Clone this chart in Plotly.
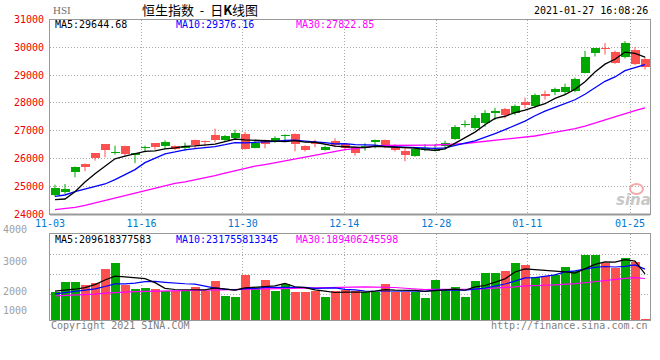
import plotly.graph_objects as go

# ---------------- data ----------------
dates = ["11-03","11-04","11-05","11-06","11-09","11-10","11-11","11-12","11-13",
         "11-16","11-17","11-18","11-19","11-20","11-23","11-24","11-25","11-26","11-27",
         "11-30","12-01","12-02","12-03","12-04","12-07","12-08","12-09","12-10","12-11",
         "12-14","12-15","12-16","12-17","12-18","12-21","12-22","12-23","12-24",
         "12-28","12-29","12-30","12-31","01-04","01-05","01-06","01-07","01-08",
         "01-11","01-12","01-13","01-14","01-15","01-18","01-19","01-20","01-21","01-22",
         "01-25","01-26","01-27"]

opens = [24672,24780,25500,25788,26184,26508,26200,26436,26136,26364,26544,26436,26460,26388,
         26676,26640,26832,26676,26748,26868,26388,26676,26592,26796,26892,26460,26568,26316,
         26640,26520,26424,26364,26604,26676,26424,26280,26076,26292,26280,26460,26690,27190,
         27083,27262,27619,27774,27619,28048,27905,28333,28405,28405,28440,29083,29810,29976,
         29833,29667,29905,29583]
highs = [25056,25080,25710,25824,26190,26510,26460,26460,26200,26460,26550,26652,26470,26568,
         26680,26645,27072,26840,27036,26952,26676,26680,26796,26868,26900,26470,26676,26460,
         26724,26545,26430,26545,26680,26680,26510,26364,26400,26510,26510,26640,27200,27369,
         27560,27740,27821,27821,27940,28190,28333,28440,28548,28690,28910,29869,29976,30155,
         29880,30226,30012,29655]
lows = [24620,24720,25320,25540,25920,26040,26136,26100,25830,26220,26316,26340,26304,26280,
        26376,26436,26580,26592,26664,26316,26364,26364,26560,26640,26256,26250,26400,26280,
        26400,26280,26100,26280,26364,26364,26250,25896,26060,26260,26250,26330,26670,27119,
        27020,27140,27381,27440,27560,27798,27820,28119,28274,28300,28380,29060,29667,29738,
        29405,29600,29360,29202]
closes = [24940,24886,25695,25690,26016,26301,26226,26170,26190,26388,26400,26580,26356,26455,
          26486,26588,26669,26819,26928,26341,26567,26532,26748,26850,26506,26304,26502,26424,
          26480,26389,26207,26436,26678,26420,26306,26119,26343,26386,26314,26568,27147,27231,
          27472,27649,27692,27548,27878,27908,28276,28235,28496,28573,28862,29642,29962,29927,
          29447,30159,29391,29297]

ma5 = [24516,24540,24800,25150,25445,25718,25986,26081,26181,26255,26275,26346,26383,26436,
       26455,26493,26511,26603,26698,26669,26665,26637,26623,26608,26641,26588,26582,26517,
       26443,26420,26400,26387,26438,26426,26409,26392,26373,26315,26294,26346,26552,26729,
       26946,27213,27438,27518,27648,27735,27860,27969,28159,28298,28488,28762,29107,29393,
       29568,29827,29777,29644]
ma10 = [24636,24684,24804,24900,24984,25080,25236,25416,25596,25850,25996,26166,26232,26308,
        26355,26384,26428,26493,26567,26562,26579,26574,26613,26653,26655,26626,26610,26570,
        26525,26530,26494,26485,26478,26435,26415,26396,26380,26376,26360,26378,26472,26551,
        26631,26754,26892,27035,27189,27341,27537,27704,27839,27973,28112,28311,28538,28776,
        28933,29158,29269,29376]
ma30 = [24160,24190,24240,24310,24400,24480,24560,24650,24740,24830,24920,25010,25100,25160,
        25230,25300,25380,25470,25560,25650,25720,25780,25850,25910,25980,26040,26120,26190,
        26260,26314,26356,26408,26441,26465,26475,26469,26473,26480,26484,26490,26515,26537,
        26574,26614,26654,26686,26726,26762,26807,26871,26935,27003,27073,27166,27282,27402,
        27501,27625,27722,27819]

volumes = [1281,1739,1739,1601,1693,2333,2608,1601,1418,1464,1418,1312,1342,1342,1525,1342,
           1784,1098,1052,2059,1495,1830,1327,1647,1281,1281,1327,1052,1327,1373,1327,1281,
           1281,1647,1281,1281,1281,1022,1830,1373,1510,1052,1784,2150,2150,2242,2608,2516,
           1967,2013,2059,2425,2242,2974,2974,2608,2379,2837,2623,46]
vma5 = [1312,1342,1403,1479,1611,1821,1995,1967,1931,1885,1702,1443,1391,1376,1388,1373,1467,
        1418,1360,1467,1498,1507,1553,1672,1516,1473,1373,1318,1254,1272,1281,1272,1318,1382,
        1363,1354,1354,1302,1339,1357,1403,1357,1510,1574,1729,1876,2187,2333,2297,2269,2233,
        2196,2141,2343,2535,2645,2635,2754,2684,2099]
vma10 = [1190,1251,1296,1373,1418,1525,1647,1647,1678,1748,1761,1719,1679,1653,1636,1537,1455,
         1405,1368,1427,1435,1487,1485,1516,1492,1485,1440,1435,1463,1394,1377,1322,1318,1318,
         1318,1318,1313,1310,1360,1360,1379,1356,1406,1456,1543,1639,1772,1922,1935,1999,2054,
         2191,2237,2320,2402,2439,2416,2448,2514,2317]
vma30 = [1098,1110,1125,1145,1175,1225,1262,1275,1290,1300,1310,1320,1330,1340,1355,1370,1385,
         1395,1405,1420,1430,1440,1450,1460,1470,1480,1490,1500,1512,1523,1525,1509,1494,1496,
         1482,1447,1403,1383,1397,1394,1397,1388,1403,1430,1451,1481,1508,1556,1586,1585,1603,
         1623,1654,1698,1754,1799,1834,1893,1936,1892]

x_tick_labels = ["11-03", "11-16", "11-30", "12-14", "12-28", "01-11", "01-25"]
x_tick_vals = [-0.5, 8.65, 18.77, 28.93, 38.13, 47.23, 57.5]
price_ticks = [24000, 25000, 26000, 27000, 28000, 29000, 30000, 31000]
vol_tick_labels = ["4000", "3000", "2000", "1000"]

ma_text = ["MA5:29644.68", "MA10:29376.16", "MA30:27822.85"]
vma_text = ["MA5:209618377583", "MA10:231755813345", "MA30:189406245598"]

# ---------------- style ----------------
W, H = 660, 360
GREEN = "#00A800"
RED = "#FF5050"
GRID = "#A8A8A8"
MONO = "DejaVu Sans Mono, Liberation Mono, monospace"

def px(x):
    return x / W

def py(y):
    return 1 - y / H

n = len(closes)
xs = list(range(n))
up = [c >= o for o, c in zip(opens, closes)]

fig = go.Figure()

# wicks
for flag, col in ((True, GREEN), (False, RED)):
    wx, wy = [], []
    for i in xs:
        if up[i] == flag:
            wx += [i, i, None]
            wy += [lows[i], highs[i], None]
    fig.add_trace(go.Scatter(x=wx, y=wy, mode="lines", line=dict(color=col, width=1),
                             xaxis="x", yaxis="y", hoverinfo="skip", showlegend=False))

# bodies
for flag, col in ((True, GREEN), (False, RED)):
    bx = [i for i in xs if up[i] == flag]
    base = [min(opens[i], closes[i]) for i in bx]
    hgt = [max(abs(closes[i] - opens[i]), 30) for i in bx]
    fig.add_trace(go.Bar(x=bx, y=hgt, base=base, width=0.9, marker=dict(color=col, line=dict(width=0)),
                         xaxis="x", yaxis="y", showlegend=False, hoverinfo="skip"))

# price MAs
for arr, col in ((ma30, "#FF00FF"), (ma10, "#0000FF"), (ma5, "#000000")):
    fig.add_trace(go.Scatter(x=xs, y=arr, mode="lines", line=dict(color=col, width=1.3),
                             xaxis="x", yaxis="y", showlegend=False, hoverinfo="skip"))

# volume bars
for flag, col in ((True, GREEN), (False, RED)):
    bx = [i for i in xs if up[i] == flag]
    fig.add_trace(go.Bar(x=bx, y=[volumes[i] for i in bx], width=0.9,
                         marker=dict(color=col, line=dict(width=0)),
                         xaxis="x2", yaxis="y2", showlegend=False, hoverinfo="skip"))

for arr, col in ((vma30, "#FF00FF"), (vma10, "#0000FF"), (vma5, "#000000")):
    fig.add_trace(go.Scatter(x=xs, y=arr, mode="lines", line=dict(color=col, width=1.2),
                             xaxis="x2", yaxis="y2", showlegend=False, hoverinfo="skip"))

xdom = [px(50), px(650)]
axis_common = dict(range=[-0.5, n - 0.5], domain=xdom, tickmode="array", tickvals=x_tick_vals,
                   showgrid=True, gridcolor=GRID, griddash="1px,2px", gridwidth=1,
                   showline=True, linecolor="#999999", linewidth=1, mirror=True,
                   zeroline=False, ticks="", fixedrange=True, automargin=False)

fig.update_layout(
    width=W, height=H, margin=dict(l=0, r=0, t=0, b=0, autoexpand=False),
    paper_bgcolor="white", plot_bgcolor="white",
    barmode="overlay", bargap=0, hovermode=False,
    xaxis=dict(**axis_common, anchor="y", ticktext=x_tick_labels, showticklabels=True,
               tickfont=dict(family=MONO, size=10, color="#0078D0")),
    yaxis=dict(domain=[py(214), py(19.5)], range=[24000, 31000], tickmode="array",
               tickvals=price_ticks, ticktext=[str(v) for v in price_ticks],
               tickfont=dict(family=MONO, size=10, color="#F00000"),
               showgrid=True, gridcolor=GRID, griddash="1px,2px",
               showline=True, linecolor="#999999", linewidth=1, mirror=True,
               zeroline=False, ticks="", ticklabelstandoff=3, anchor="x", automargin=False,
               fixedrange=True),
    xaxis2=dict(**axis_common, anchor="y2", showticklabels=False),
    yaxis2=dict(domain=[py(320), py(234)], range=[0, 3920], tickmode="array",
                tickvals=[1144, 2059, 2974], showticklabels=False,
                showgrid=True, gridcolor=GRID, griddash="1px,2px",
                showline=True, linecolor="#999999", linewidth=1, mirror=True,
                zeroline=False, ticks="", anchor="x2", automargin=False, fixedrange=True),
)

# thicker bottom border of the price pane
fig.add_shape(type="line", xref="paper", yref="paper", x0=px(50), x1=px(650),
              y0=py(214.5), y1=py(214.5), line=dict(color="#999999", width=2))

ann = []

def text(x, y, s, size=10, color="#000", family=MONO, xanchor="left"):
    ann.append(dict(x=px(x), y=py(y), xref="paper", yref="paper", text=s, showarrow=False,
                    xanchor=xanchor, yanchor="middle", borderpad=0,
                    font=dict(family=family, size=size, color=color)))

text(52, 10, "HSI", size=11, color="#707070", family="Liberation Serif, serif")
text(141, 9, "恒生指数&nbsp;&nbsp;-&nbsp;&nbsp;日<b>K</b>线图", size=13, color="#000",
     family="Noto Sans CJK SC, sans-serif")
text(649, 10.5, "2021-01-27 16:08:26", xanchor="right")

text(54, 24.5, ma_text[0], color="#000000")
text(175, 24.5, ma_text[1], color="#0000FF")
text(295, 24.5, ma_text[2], color="#FF00FF")

text(54, 239, vma_text[0], color="#000000")
text(175, 239, vma_text[1], color="#0000FF")
text(295, 239, vma_text[2], color="#FF00FF")

for lab, yy in zip(vol_tick_labels, [230, 261, 291, 310]):
    text(28, yy, lab, color="#A0A0A0", xanchor="right", size=10)

text(50, 325, "Copyright 2021 SINA.COM", color="#808080")
text(649, 325, "http://finance.sina.com.cn", color="#808080", xanchor="right")

# watermark
text(633, 200, "<b><i>sina</i></b>", size=15, color="#C8C8C8",
     family="DejaVu Sans, sans-serif", xanchor="center")
fig.add_shape(type="circle", xref="paper", yref="paper",
              x0=px(630), x1=px(643), y0=py(194), y1=py(184),
              line=dict(color="#F4A8A8", width=2), fillcolor="rgba(0,0,0,0)")

fig.update_layout(annotations=ann)

fig.write_html("out.html", config={"displayModeBar": False, "staticPlot": True},
               post_script="document.body.style.margin='0';document.body.style.padding='0';")
